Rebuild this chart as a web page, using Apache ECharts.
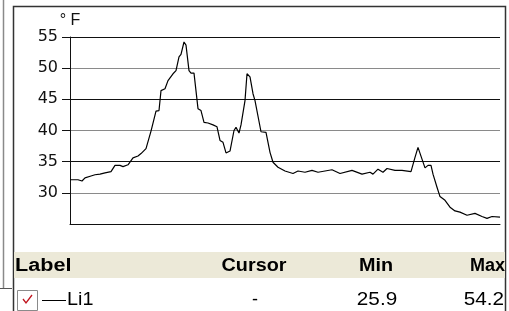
<!DOCTYPE html>
<html>
<head>
<meta charset="utf-8">
<script src="https://cdn.jsdelivr.net/npm/echarts@6/dist/echarts.min.js"></script>
<style>
  html, body { margin: 0; padding: 0; background: #fff; }
  #chart { width: 509px; height: 311px; }
</style>
</head>
<body>
<div id="chart"></div>
<script>
// sample positions (arbitrary time units) and temperatures
const timeSec = [0, 8, 12, 15, 21, 25, 30, 35, 41, 45, 50, 53, 58, 63, 68, 71, 76, 78, 81, 83,
  86, 89, 91, 95, 98, 103, 106, 109, 111, 114, 116, 119, 121, 124, 128, 131, 134, 138, 143, 147,
  150, 153, 156, 160, 164, 166, 169, 171, 175, 177, 180, 183, 185, 191, 196, 200, 203, 208, 215, 223,
  228, 235, 242, 248, 262, 270, 282, 292, 300, 303, 308, 313, 317, 325, 332, 341, 345, 348, 352, 355,
  358, 361, 363, 367, 370, 375, 380, 385, 390, 397, 405, 412, 417, 422, 430]
const tempF = [32.1, 32.1, 31.9, 32.4, 32.7, 32.9, 33.0, 33.2, 33.4, 34.4, 34.4, 34.2, 34.5, 35.6, 35.9, 36.3, 37.1, 37.3, 39.9, 40.0,
  43.1, 43.2, 46.4, 46.7, 48.0, 49.1, 49.6, 51.8, 52.2, 54.2, 53.7, 49.6, 49.2, 49.2, 43.5, 43.2, 41.3, 41.2, 40.9, 40.6,
  38.4, 38.1, 36.4, 36.7, 40.0, 40.5, 39.6, 40.9, 44.8, 49.1, 48.6, 45.9, 44.8, 39.8, 39.7, 36.5, 34.9, 34.1, 33.5, 33.1,
  33.5, 33.3, 33.6, 33.3, 33.7, 33.1, 33.6, 33.0, 33.3, 33.0, 33.8, 33.3, 33.9, 33.6, 33.6, 33.4, 35.7, 37.3, 35.4, 34.0,
  34.4, 34.4, 33.0, 30.9, 29.4, 28.8, 27.7, 27.1, 26.9, 26.4, 26.7, 26.2, 25.9, 26.2, 26.1]
const yTicks = [30, 35, 40, 45, 50, 55]
const seriesLabel = 'Li1'
const tableHeaders = ['Label', 'Cursor', 'Min', 'Max']

const chart = echarts.init(document.getElementById('chart'))

const minText = Math.min(...tempF).toFixed(1)
const maxText = Math.max(...tempF).toFixed(1)

const headFont = 'bold 18px "Liberation Sans", Arial, sans-serif'
const rowFont = '18px "Liberation Sans", Arial, sans-serif'

chart.setOption({
  animation: false,
  grid: { left: 70, right: 9, top: 37, bottom: 87 },
  xAxis: {
    type: 'value',
    min: 0,
    max: 430,
    axisLine: { show: true, lineStyle: { color: '#111', width: 1 } },
    axisTick: { show: false },
    axisLabel: { show: false },
    splitLine: { show: false }
  },
  yAxis: {
    type: 'value',
    min: 25,
    max: 55,
    interval: 5,
    name: '° F',
    nameLocation: 'end',
    nameGap: 8,
    nameTextStyle: { color: '#111', fontSize: 16, fontFamily: 'Liberation Sans, Arial, sans-serif' },
    axisLine: { show: true, lineStyle: { color: '#111', width: 1 } },
    axisTick: { show: true, customValues: yTicks, length: 8, lineStyle: { color: '#111' } },
    axisLabel: {
      customValues: yTicks,
      margin: 12,
      color: '#111',
      fontSize: 16,
      fontFamily: 'DejaVu Sans, sans-serif'
    },
    splitLine: { show: true, lineStyle: { color: ['#8a8a8a', '#111'], width: 1 } }
  },
  series: [{
    name: seriesLabel,
    type: 'line',
    data: timeSec.map((t, i) => [t, tempF[i]]),
    showSymbol: false,
    lineStyle: { color: '#000', width: 1.2 }
  }],
  graphic: [
    // outer panel edge
    { type: 'line', shape: { x1: 3.5, y1: 0, x2: 3.5, y2: 288 }, style: { stroke: '#8a8a8a', lineWidth: 1.5 } },
    { type: 'line', shape: { x1: 0, y1: 288.5, x2: 12, y2: 288.5 }, style: { stroke: '#555', lineWidth: 1 } },
    // chart box
    { type: 'rect', shape: { x: 13.5, y: 6.5, width: 492, height: 320 }, style: { fill: null, stroke: '#333', lineWidth: 1.5 } },
    // table header
    { type: 'rect', shape: { x: 14, y: 252, width: 491, height: 26 }, style: { fill: '#ece9d8' } },
    { type: 'text', x: 15, y: 266, scaleX: 1.2, style: { text: tableHeaders[0], font: headFont, fill: '#000', textVerticalAlign: 'middle' } },
    { type: 'text', x: 254, y: 266, scaleX: 1.1, style: { text: tableHeaders[1], font: headFont, fill: '#000', textAlign: 'center', textVerticalAlign: 'middle' } },
    { type: 'text', x: 376, y: 266, scaleX: 1.1, style: { text: tableHeaders[2], font: headFont, fill: '#000', textAlign: 'center', textVerticalAlign: 'middle' } },
    { type: 'text', x: 505, y: 266, style: { text: tableHeaders[3], font: headFont, fill: '#000', textAlign: 'right', textVerticalAlign: 'middle' } },
    // row
    { type: 'rect', shape: { x: 17.5, y: 290.5, width: 20, height: 20 }, style: { fill: '#fff', stroke: '#8a8a8a', lineWidth: 1 } },
    { type: 'polyline', shape: { points: [[23, 299], [26, 303], [32, 295]] }, style: { stroke: '#c0141e', lineWidth: 1.3, fill: null } },
    { type: 'line', shape: { x1: 42, y1: 300.5, x2: 66, y2: 300.5 }, style: { stroke: '#000', lineWidth: 1 } },
    { type: 'text', x: 67, y: 300, scaleX: 1.1, style: { text: seriesLabel, font: rowFont, fill: '#000', textVerticalAlign: 'middle' } },
    { type: 'text', x: 255, y: 300, style: { text: '-', font: rowFont, fill: '#000', textAlign: 'center', textVerticalAlign: 'middle' } },
    { type: 'text', x: 377, y: 300, scaleX: 1.15, style: { text: minText, font: rowFont, fill: '#000', textAlign: 'center', textVerticalAlign: 'middle' } },
    { type: 'text', x: 504, y: 300, scaleX: 1.15, style: { text: maxText, font: rowFont, fill: '#000', textAlign: 'right', textVerticalAlign: 'middle' } }
  ]
})
</script>
</body>
</html>
